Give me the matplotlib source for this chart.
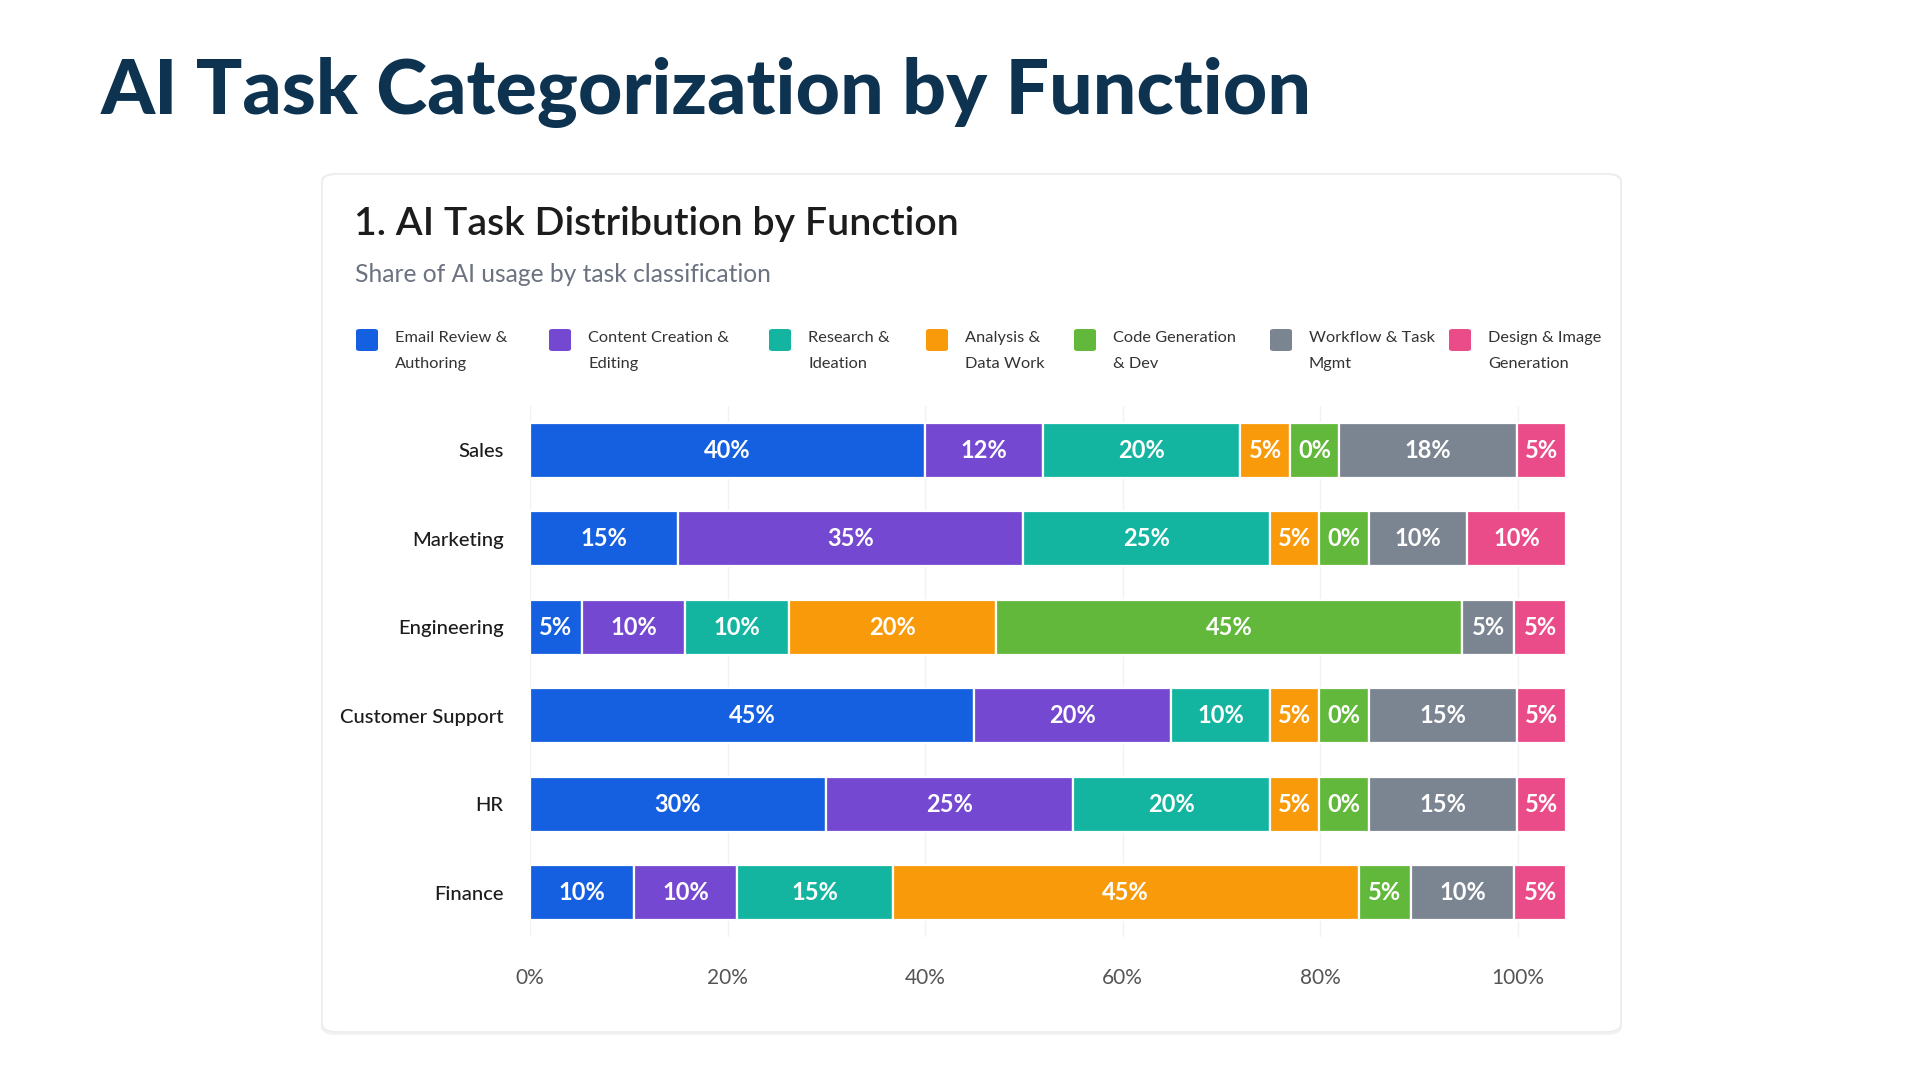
import matplotlib.pyplot as plt
from matplotlib.patches import FancyBboxPatch

# data
functions = ["Sales", "Marketing", "Engineering", "Customer Support", "HR", "Finance"]
task_names = ["Email Review &\nAuthoring", "Content Creation &\nEditing", "Research &\nIdeation",
              "Analysis &\nData Work", "Code Generation\n& Dev", "Workflow & Task\nMgmt",
              "Design & Image\nGeneration"]
email = [40, 15, 5, 45, 30, 10]
content = [12, 35, 10, 20, 25, 10]
research = [20, 25, 10, 10, 20, 15]
analysis = [5, 5, 20, 5, 5, 45]
code = [0, 0, 45, 0, 0, 5]
workflow = [18, 10, 5, 15, 15, 10]
design = [5, 10, 5, 5, 5, 5]
series = [email, content, research, analysis, code, workflow, design]
colors = ["#1560e0", "#7448d0", "#14b5a0", "#f99a0a", "#62b83a", "#7b8591", "#ea4c89"]
xticks = [0, 20, 40, 60, 80, 100]

min_w = 5        # smallest drawn segment, so 0% still shows a block
bar_end = 104.9  # every stacked bar ends here on the axis

W, H = 1920, 1080
fig = plt.figure(figsize=(19.2, 10.8), dpi=100)
fig.patch.set_facecolor("white")


def fx(x):
    return x / W


def fy(y):
    return 1 - y / H


# card with soft shadow
shadow = FancyBboxPatch((fx(321), fy(1035)), fx(1301), 862 / H,
                        boxstyle="round,pad=0,rounding_size=0.008",
                        transform=fig.transFigure, facecolor="#f2f2f2",
                        edgecolor="none", zorder=0)
fig.patches.append(shadow)
card = FancyBboxPatch((fx(322), fy(1032)), fx(1299), 858 / H,
                      boxstyle="round,pad=0,rounding_size=0.008",
                      transform=fig.transFigure, facecolor="white",
                      edgecolor="#ededed", linewidth=1.2, zorder=0.5)
fig.patches.append(card)

fig.text(fx(101), fy(92), "AI Task Categorization by Function", family="Lato",
         fontweight="black", fontsize=55.5, color="#0d3350", va="center", ha="left")
fig.text(fx(354), fy(224), "1. AI Task Distribution by Function", family="Lato",
         fontweight="semibold", fontsize=28.3, color="#1c1c1c", va="center", ha="left")
fig.text(fx(355), fy(274), "Share of AI usage by task classification", family="Lato",
         fontsize=17.7, color="#6b7280", va="center", ha="left")

# legend
legend_x = [356, 549, 769, 926, 1074, 1270, 1449]
for lx, name, c in zip(legend_x, task_names, colors):
    sq = FancyBboxPatch((fx(lx), fy(351)), fx(22), 22 / H,
                        boxstyle="round,pad=0,rounding_size=0.002",
                        transform=fig.transFigure, facecolor=c, edgecolor="none")
    fig.patches.append(sq)
    fig.text(fx(lx + 39), fy(331), name, family="Lato", fontsize=11.8,
             color="#333333", va="top", ha="left", linespacing=2.05)

# bars
ax = fig.add_axes([fx(530), fy(937), fx(1037), 531 / H])
ax.set_zorder(2)
ax.set_facecolor("none")
for row in range(len(functions)):
    vals = [s[row] for s in series]
    drawn = [max(v, min_w) for v in vals]
    scale = bar_end / sum(drawn)
    left = 0
    for v, d, c in zip(vals, drawn, colors):
        w = d * scale
        ax.barh(row, w, left=left, height=0.62, color=c, edgecolor="white",
                linewidth=1.6, zorder=3)
        ax.text(left + w / 2, row, f"{v}%", ha="center", va="center",
                color="white", fontsize=17, fontweight="bold", family="Lato", zorder=4)
        left += w

ax.set_xlim(0, 105)
ax.set_ylim(len(functions) - 0.5, -0.5)
ax.set_yticks(range(len(functions)))
ax.set_yticklabels(functions, family="Lato", fontsize=14.6, fontweight="medium",
                   color="#1c1c1c")
ax.set_xticks(xticks)
ax.set_xticklabels([f"{t}%" for t in xticks], family="Lato", fontsize=15, color="#555555")
ax.tick_params(axis="y", length=0, pad=19)
ax.tick_params(axis="x", length=0, pad=22)
ax.grid(axis="x", color="#f2f2f2", linewidth=1, zorder=0)
for sp in ax.spines.values():
    sp.set_visible(False)

plt.savefig("out.png", dpi=100, facecolor="white")
